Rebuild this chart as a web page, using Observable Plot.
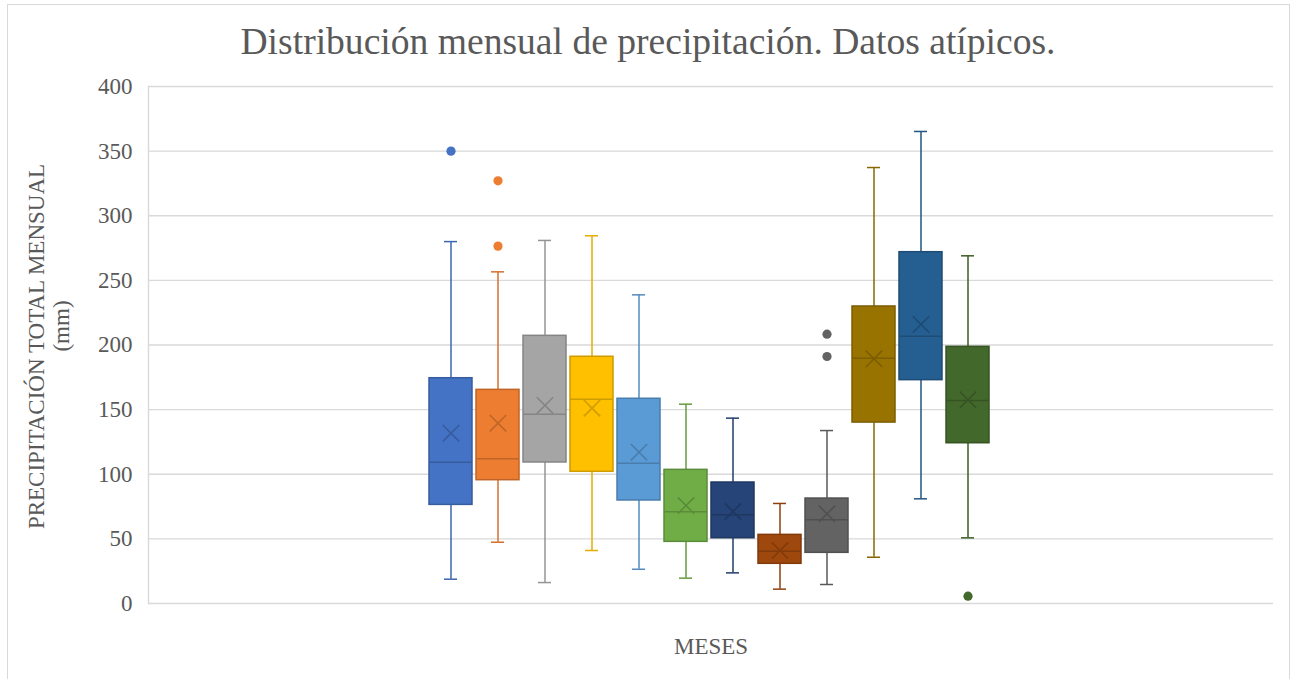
<!DOCTYPE html>
<html>
<head>
<meta charset="utf-8">
<script src="https://cdn.jsdelivr.net/npm/d3@7"></script>
<script src="https://cdn.jsdelivr.net/npm/@observablehq/plot@0.6"></script>
<style>
  html, body { margin: 0; padding: 0; background: #fff; }
  #wrap { position: relative; width: 1290px; height: 679px; overflow: hidden; font-family: "Liberation Serif", "Times New Roman", serif; }
  #border { position: absolute; left: 7px; top: 4px; width: 1283px; height: 700px; border: 1px solid #d9d9d9; box-sizing: border-box; }
  #title { position: relative; height: 70px; box-sizing: border-box; padding-top: 23px; line-height: 38px; font-size: 37.6px; color: #595959; text-align: center; padding-left: 6px; }
  #chart { position: relative; }
</style>
</head>
<body>
<div id="wrap">
  <div id="border"></div>
  <div id="title">Distribución mensual de precipitación. Datos atípicos.</div>
  <div id="chart"></div>
</div>
<script>
const months = ["Ene","Feb","Mar","Abr","May","Jun","Jul","Ago","Sep","Oct","Nov","Dic"];
const colors = ["#4472C4","#ED7D31","#A5A5A5","#FFC000","#5B9BD5","#70AD47","#264478","#9E480E","#636363","#997300","#255E91","#43682B"];
const whiskerLow  = [18.8, 47.4, 16.2, 41.0, 26.5, 19.6, 23.7, 11.1, 14.7, 35.8, 81.0, 50.8];
const q1          = [76.3, 95.4, 109.1, 101.9, 79.7, 47.7, 50.5, 30.7, 39.2, 140.0, 172.8, 124.0];
const median      = [109.3, 112.0, 146.5, 158.1, 108.6, 70.9, 68.6, 40.5, 64.8, 189.8, 206.8, 157.0];
const q3          = [174.3, 165.3, 207.1, 190.9, 158.4, 103.4, 93.6, 53.1, 81.2, 229.8, 271.8, 198.6];
const whiskerHigh = [280.0, 256.6, 280.9, 284.5, 238.8, 154.2, 143.4, 77.4, 133.8, 337.3, 365.2, 269.0];
const mean        = [131.8, 139.5, 153.2, 151.1, 117.1, 75.8, 71.2, 41.0, 69.4, 189.3, 215.9, 157.6];
const outlierMonths = ["Ene","Feb","Feb","Sep","Sep","Dic"];
const outlierValues = [350.0, 327.0, 276.5, 208.4, 191.1, 5.7];
const yTicks = [0, 50, 100, 150, 200, 250, 300, 350, 400];
const yLabel1 = "PRECIPITACIÓN TOTAL MENSUAL";
const yLabel2 = "(mm)";
const xLabel = "MESES";

const dark = (c, k) => d3.color(c).darker(k).formatHex();

const boxes = months.map((m, i) => ({
  month: m,
  lo: whiskerLow[i], q1: q1[i], med: median[i], q3: q3[i], hi: whiskerHigh[i], mean: mean[i],
  fill: colors[i], line: dark(colors[i], 0.6), whisk: dark(colors[i], 0.3)
}));
const outliers = outlierMonths.map((m, i) => ({
  month: m, value: outlierValues[i], fill: colors[months.indexOf(m)]
}));

const font = "'Liberation Serif', 'Times New Roman', serif";

const chart = Plot.plot({
  width: 1290,
  height: 609,
  marginTop: 16,
  marginBottom: 76,
  marginLeft: 148,
  marginRight: 17,
  style: { fontFamily: font, fontSize: "23px", color: "#595959", background: "transparent", overflow: "visible" },
  x: { type: "band", domain: months, paddingInner: 0.085, paddingOuter: 6.01, align: 0.4965, axis: null },
  y: { domain: [0, 400], axis: null },
  color: { type: "identity" },
  marks: [
    Plot.gridY(yTicks, { stroke: "#d9d9d9", strokeOpacity: 1, strokeWidth: 1.4 }),
    Plot.frame({ anchor: "left", stroke: "#d9d9d9", strokeWidth: 1.4 }),
    Plot.axisY(yTicks, { tickSize: 0, tickPadding: 16, label: null, fontSize: 23, fill: "#595959" }),
    // whiskers
    Plot.ruleX(boxes, { x: "month", y1: "lo", y2: "q1", stroke: d => d.whisk, strokeWidth: 1.5 }),
    Plot.ruleX(boxes, { x: "month", y1: "q3", y2: "hi", stroke: d => d.whisk, strokeWidth: 1.5 }),
    Plot.tickY(boxes, { x: "month", y: "lo", stroke: d => d.whisk, strokeWidth: 1.5, insetLeft: 15, insetRight: 15 }),
    Plot.tickY(boxes, { x: "month", y: "hi", stroke: d => d.whisk, strokeWidth: 1.5, insetLeft: 15, insetRight: 15 }),
    // boxes
    Plot.barY(boxes, { x: "month", y1: "q1", y2: "q3", fill: d => d.fill, stroke: d => d.line, strokeWidth: 1.5 }),
    Plot.tickY(boxes, { x: "month", y: "med", stroke: d => d.line, strokeWidth: 1.5 }),
    Plot.dot(boxes, { x: "month", y: "mean", symbol: "times", r: 7.5, stroke: d => d.line, strokeWidth: 1.6 }),
    // outliers
    Plot.dot(outliers, { x: "month", y: "value", r: 4.6, fill: d => d.fill, stroke: "none" }),
    // axis titles
    Plot.text([yLabel1], { frameAnchor: "left", text: d => d, rotate: -90, textAnchor: "middle", dx: -112, dy: 1.5, fontSize: 23, fill: "#595959" }),
    Plot.text([yLabel2], { frameAnchor: "left", text: d => d, rotate: -90, textAnchor: "middle", dx: -87, dy: -19, fontSize: 23, fill: "#595959" }),
    Plot.text([xLabel], { frameAnchor: "bottom", text: d => d, textAnchor: "middle", dy: 50, fontSize: 23, fill: "#595959" })
  ]
});
document.getElementById("chart").appendChild(chart);
</script>
</body>
</html>
